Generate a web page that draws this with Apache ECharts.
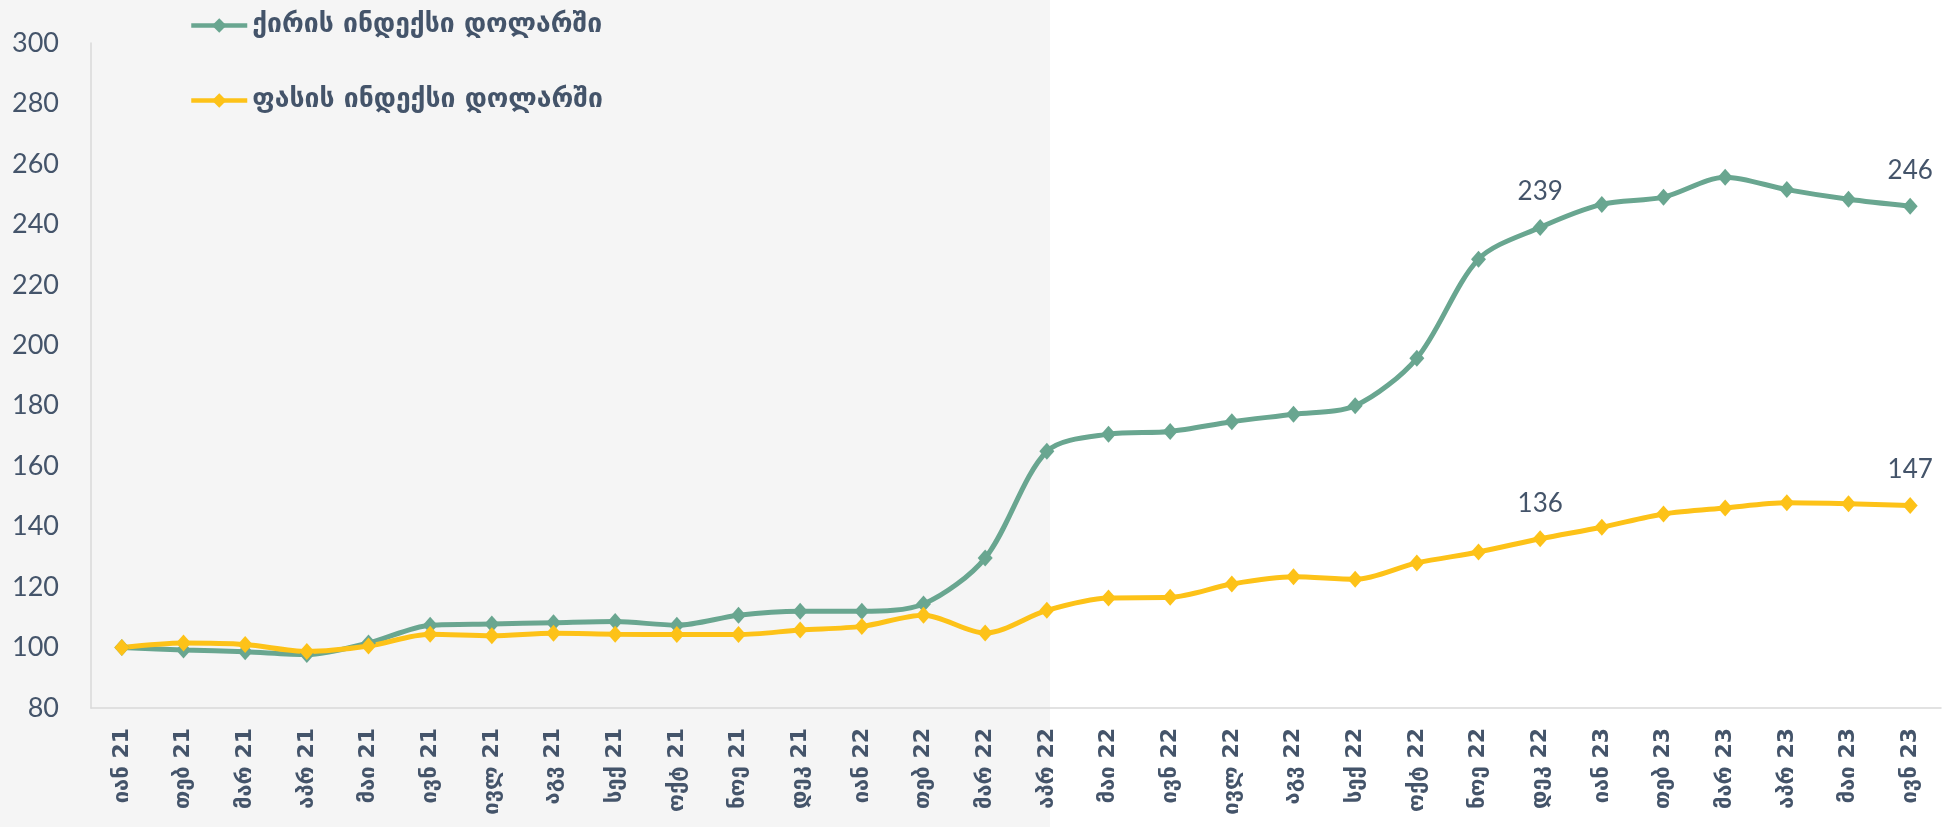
<!DOCTYPE html>
<html>
<head>
<meta charset="utf-8">
<script src="https://cdn.jsdelivr.net/npm/echarts@6/dist/echarts.min.js"></script>
<style>
  html, body { margin: 0; padding: 0; background: #fff; }
  #chart { width: 1944px; height: 827px; }
</style>
</head>
<body>
<div id="chart"></div>
<script>
const months = ['იან 21', 'თებ 21', 'მარ 21', 'აპრ 21', 'მაი 21', 'ივნ 21', 'ივლ 21', 'აგვ 21', 'სექ 21', 'ოქტ 21', 'ნოე 21', 'დეკ 21',
    'იან 22', 'თებ 22', 'მარ 22', 'აპრ 22', 'მაი 22', 'ივნ 22', 'ივლ 22', 'აგვ 22', 'სექ 22', 'ოქტ 22', 'ნოე 22', 'დეკ 22',
    'იან 23', 'თებ 23', 'მარ 23', 'აპრ 23', 'მაი 23', 'ივნ 23'];
const rentIndex = [100, 99.2, 98.6, 97.7, 101.5, 107.4, 107.8, 108.2, 108.6, 107.4, 110.7, 112, 112, 114.4, 129.6,
    164.9, 170.6, 171.5, 174.7, 177.2, 180, 195.7, 228.5, 239, 246.6, 249, 255.6, 251.5, 248.3, 246];
const priceIndex = [100, 101.5, 101, 98.7, 100.5, 104.4, 103.9, 104.7, 104.4, 104.3, 104.3, 105.8, 107, 110.7, 104.8,
    112.3, 116.4, 116.6, 121, 123.4, 122.6, 128, 131.6, 136, 139.8, 144.2, 146.2, 147.9, 147.6, 147];
const labeledIdx = [23, 29];
const seriesNames = ['ქირის ინდექსი დოლარში', 'ფასის ინდექსი დოლარში'];
const colors = ['#69a690', '#fdc218'];
const textColor = '#44546a';

function withLabels(values) {
    return values.map((v, i) => labeledIdx.includes(i)
        ? { value: v, label: { show: true } }
        : v);
}

const chart = echarts.init(document.getElementById('chart'));
chart.setOption({
    animation: false,
    color: colors,
    graphic: [{
        type: 'rect', z: -10, silent: true,
        shape: { x: 0, y: 0, width: 1050, height: 827 },
        style: { fill: '#f5f5f5' }
    }],
    legend: {
        orient: 'vertical',
        left: 184,
        top: 7,
        itemGap: 48,
        itemWidth: 56,
        itemHeight: 18,
        lineStyle: { width: 4.5 },
        textStyle: { fontFamily: 'DejaVu Sans', fontWeight: 'bold', fontSize: 26.5, color: textColor },
        data: seriesNames
    },
    grid: { left: 91, right: 3, top: 43, bottom: 119, containLabel: false },
    xAxis: {
        type: 'category',
        data: months,
        boundaryGap: true,
        axisLine: { lineStyle: { color: '#d9d9d9', width: 1.5 } },
        axisTick: { show: false },
        axisLabel: {
            rotate: 90, margin: 20, interval: 0,
            fontFamily: 'DejaVu Sans', fontWeight: 'bold', fontSize: 22, color: textColor
        }
    },
    yAxis: {
        type: 'value',
        min: 80, max: 300, interval: 20,
        axisLine: { show: true, lineStyle: { color: '#d9d9d9', width: 1.5 } },
        axisTick: { show: false },
        splitLine: { show: false },
        axisLabel: { margin: 32, fontFamily: 'Lato', fontSize: 27, color: textColor }
    },
    series: [rentIndex, priceIndex].map((vals, k) => ({
        name: seriesNames[k],
        type: 'line',
        smooth: 0.3,
        symbol: 'diamond',
        symbolSize: [15, 17],
        lineStyle: { width: 5 },
        label: {
            show: false, position: 'top', distance: 14,
            fontFamily: 'Lato', fontSize: 26, color: textColor
        },
        data: withLabels(vals)
    }))
});
</script>
</body>
</html>
